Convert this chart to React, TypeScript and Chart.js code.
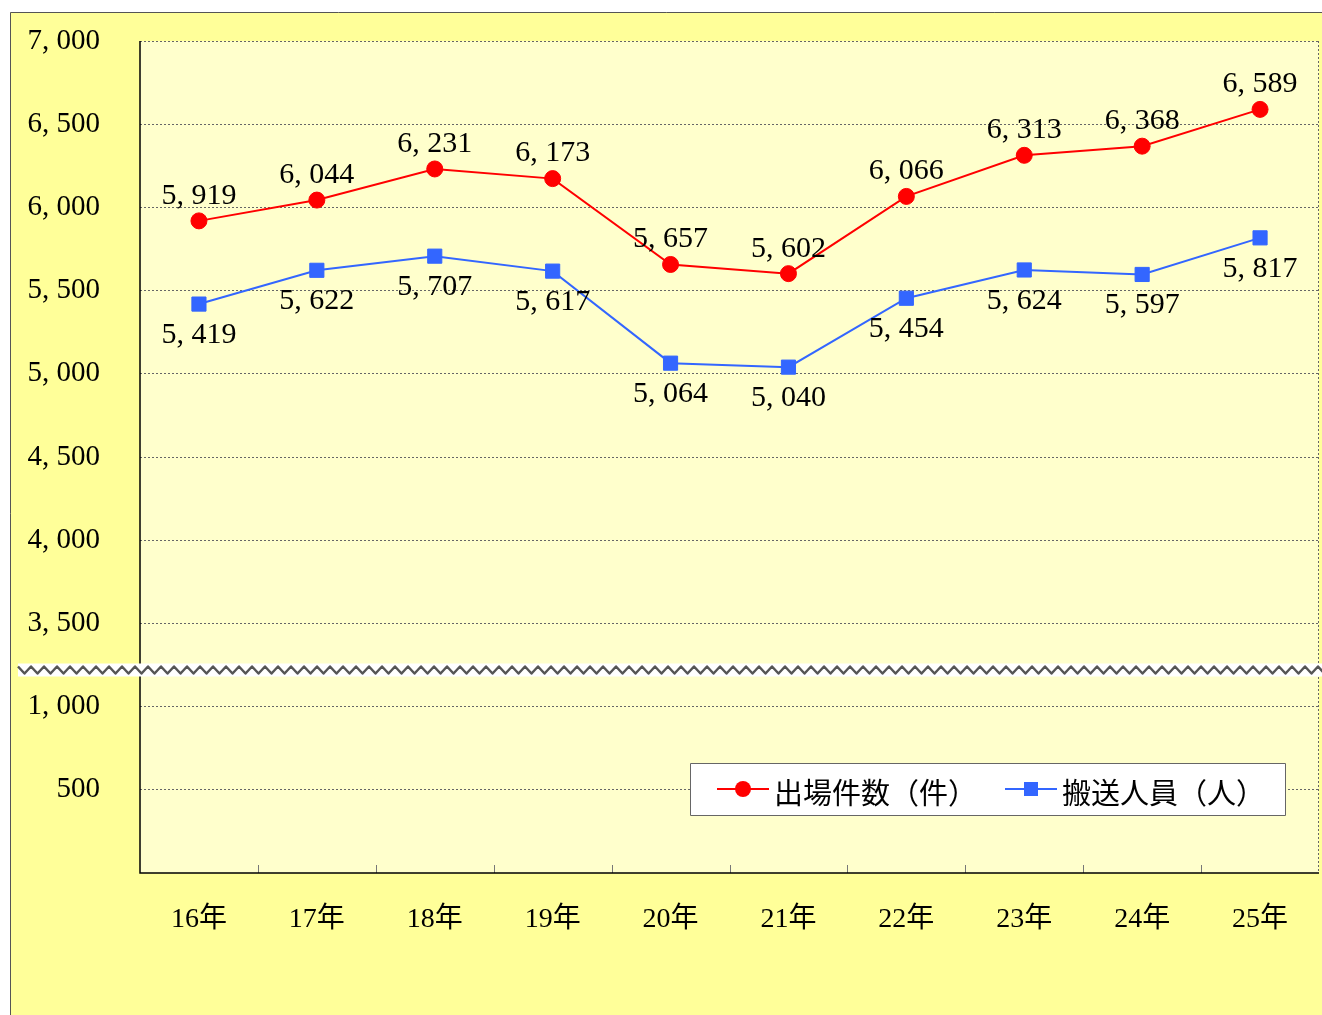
import React, { useEffect, useRef } from 'react';
import { Chart, registerables } from 'chart.js';

Chart.register(...registerables);

// ---- data ----
const categories = ['16年', '17年', '18年', '19年', '20年', '21年', '22年', '23年', '24年', '25年'];
const dispatchCounts = [5919, 6044, 6231, 6173, 5657, 5602, 6066, 6313, 6368, 6589];
const transportedPeople = [5419, 5622, 5707, 5617, 5064, 5040, 5454, 5624, 5597, 5817];
const seriesLabels = ['出場件数（件）', '搬送人員（人）'];

// broken y axis: 0..1,000 shown normally, then 3,500..7,000
const breakOffset = 2000; // values above the break are drawn this much lower
const breakAt = 1220; // axis value where the zigzag band is drawn
const axisMax = 5000; // = 7,000 after the break
const axisStep = 500;

const toAxis = (v: number) => (v > breakAt + breakOffset ? v - breakOffset : v);
const fromAxis = (v: number) => (v >= 1500 ? v + breakOffset : v);
const fmt = (n: number) => n.toLocaleString('en-US').replace(/,/g, ', ');

const SERIF = '"Liberation Serif", "Noto Sans CJK JP", serif';
const SANS_CJK = '"Noto Sans CJK JP", sans-serif';

const framePlugin = {
  id: 'frame',
  beforeDraw(chart: any) {
    const { ctx, chartArea: a, width, height } = chart;
    ctx.save();
    // outer yellow panel
    ctx.fillStyle = '#FFFF99';
    ctx.fillRect(10, 12, width - 10, height - 12);
    ctx.strokeStyle = '#555';
    ctx.lineWidth = 1;
    ctx.beginPath();
    ctx.moveTo(10.5, height);
    ctx.lineTo(10.5, 12.5);
    ctx.lineTo(width, 12.5);
    ctx.stroke();
    // plot area
    ctx.fillStyle = '#FFFFCC';
    ctx.fillRect(a.left, a.top, a.right - a.left, a.bottom - a.top);
    ctx.restore();
  },
  beforeDatasetsDraw(chart: any) {
    const { ctx, chartArea: a, scales } = chart;
    ctx.save();
    // right dotted edge
    ctx.strokeStyle = '#666';
    ctx.lineWidth = 1;
    ctx.setLineDash([2, 2]);
    ctx.beginPath();
    ctx.moveTo(a.right - 0.5, a.top);
    ctx.lineTo(a.right - 0.5, a.bottom);
    ctx.stroke();
    ctx.setLineDash([]);
    // inner tick marks at category boundaries
    const x = scales.x;
    ctx.strokeStyle = '#777';
    for (let i = 1; i < categories.length; i++) {
      const px = Math.round((x.getPixelForValue(i - 1) + x.getPixelForValue(i)) / 2) + 0.5;
      ctx.beginPath();
      ctx.moveTo(px, a.bottom);
      ctx.lineTo(px, a.bottom - 8);
      ctx.stroke();
    }
    // solid axis lines
    ctx.strokeStyle = '#000';
    ctx.lineWidth = 1.5;
    ctx.beginPath();
    ctx.moveTo(a.left, a.top);
    ctx.lineTo(a.left, a.bottom);
    ctx.lineTo(a.right, a.bottom);
    ctx.stroke();
    ctx.restore();
  },
  afterDatasetsDraw(chart: any) {
    const { ctx } = chart;
    ctx.save();
    ctx.font = `30px ${SERIF}`;
    ctx.fillStyle = '#000';
    ctx.textAlign = 'center';
    ctx.textBaseline = 'middle';
    chart.data.datasets.forEach((ds: any, i: number) => {
      const meta = chart.getDatasetMeta(i);
      meta.data.forEach((pt: any, j: number) => {
        const dy = i === 0 ? -25 : 31;
        ctx.fillText(fmt(ds.realValues[j]), pt.x, pt.y + dy);
      });
    });
    ctx.restore();
  },
  afterDraw(chart: any) {
    const { ctx, chartArea: a, scales, width } = chart;
    ctx.save();
    // axis break band
    const yb = Math.round(scales.y.getPixelForValue(breakAt));
    ctx.fillStyle = '#FFFFFF';
    ctx.fillRect(18, yb - 6.5, width - 18, 13);
    ctx.strokeStyle = '#555';
    ctx.lineWidth = 2.5;
    ctx.lineJoin = 'round';
    ctx.beginPath();
    const period = 13;
    for (let px = 18, k = 0; px <= width + period; px += period / 2, k++) {
      const py = yb + (k % 2 === 0 ? -3.5 : 3.5);
      if (k === 0) ctx.moveTo(px, py);
      else ctx.lineTo(px, py);
    }
    ctx.stroke();

    // legend box
    const bx = a.left + 550;
    const by = a.bottom - 110;
    const bw = 595;
    const bh = 52;
    ctx.fillStyle = '#FFFFFF';
    ctx.fillRect(bx, by, bw, bh);
    ctx.strokeStyle = '#666';
    ctx.lineWidth = 1;
    ctx.strokeRect(bx + 0.5, by + 0.5, bw, bh);
    const cy = by + 26;
    const items = chart.data.datasets;
    const starts = [bx + 27, bx + 315];
    items.forEach((ds: any, i: number) => {
      const sx = starts[i];
      ctx.strokeStyle = ds.borderColor;
      ctx.lineWidth = 2;
      ctx.beginPath();
      ctx.moveTo(sx, cy);
      ctx.lineTo(sx + 52, cy);
      ctx.stroke();
      ctx.fillStyle = ds.backgroundColor;
      if (ds.pointStyle === 'rect') {
        ctx.fillRect(sx + 26 - 7, cy - 7, 14, 14);
      } else {
        ctx.beginPath();
        ctx.arc(sx + 26, cy, 8, 0, Math.PI * 2);
        ctx.fill();
      }
      ctx.fillStyle = '#000';
      ctx.font = `29px ${SANS_CJK}`;
      ctx.textAlign = 'left';
      ctx.textBaseline = 'middle';
      ctx.fillText(ds.label, sx + 57, cy + 4);
    });
    ctx.restore();
  },
};

export default function App() {
  const ref = useRef<HTMLCanvasElement>(null);

  useEffect(() => {
    if (!ref.current) return;
    const chart = new Chart(ref.current, {
      type: 'line',
      data: {
        labels: categories,
        datasets: [
          {
            label: seriesLabels[0],
            data: dispatchCounts.map(toAxis),
            realValues: dispatchCounts,
            borderColor: '#FF0000',
            backgroundColor: '#FF0000',
            borderWidth: 2,
            pointStyle: 'circle',
            pointRadius: 8,
            pointBorderWidth: 1,
            tension: 0,
          } as any,
          {
            label: seriesLabels[1],
            data: transportedPeople.map(toAxis),
            realValues: transportedPeople,
            borderColor: '#3366FF',
            backgroundColor: '#3366FF',
            borderWidth: 2,
            pointStyle: 'rect',
            pointRadius: 10,
            pointBorderWidth: 1,
            tension: 0,
          } as any,
        ],
      },
      options: {
        responsive: false,
        animation: false,
        devicePixelRatio: 1,
        layout: { autoPadding: false, padding: { left: 10, top: 41, right: 3, bottom: 0 } },
        plugins: {
          legend: { display: false },
          tooltip: { enabled: false },
        },
        scales: {
          x: {
            offset: true,
            grid: { display: false, drawTicks: false },
            border: { display: false },
            ticks: {
              color: '#000',
              font: { family: SERIF, size: 28 },
              padding: 30,
              maxRotation: 0,
            },
            afterFit: (s: any) => {
              s.height = 142;
              s.paddingLeft = 0;
              s.paddingRight = 0;
            },
          },
          y: {
            min: 0,
            max: axisMax,
            grid: {
              drawTicks: false,
              color: (c: any) => (c.tick && c.tick.value === 0 ? 'rgba(0,0,0,0)' : '#666'),
              lineWidth: 1,
            },
            border: { display: false, dash: [2, 2] },
            ticks: {
              stepSize: axisStep,
              color: '#000',
              font: { family: SERIF, size: 29 },
              padding: 40,
              callback: (v: any) => (v === 0 ? '' : fmt(fromAxis(Number(v)))),
            },
            afterFit: (s: any) => {
              s.width = 130;
              s.paddingTop = 0;
              s.paddingBottom = 0;
            },
          },
        },
      } as any,
      plugins: [framePlugin],
    });
    return () => chart.destroy();
  }, []);

  return (
    <div style={{ position: 'absolute', left: 0, top: 0, width: 1322, height: 1015 }}>
      <canvas ref={ref} width={1322} height={1015} />
    </div>
  );
}
